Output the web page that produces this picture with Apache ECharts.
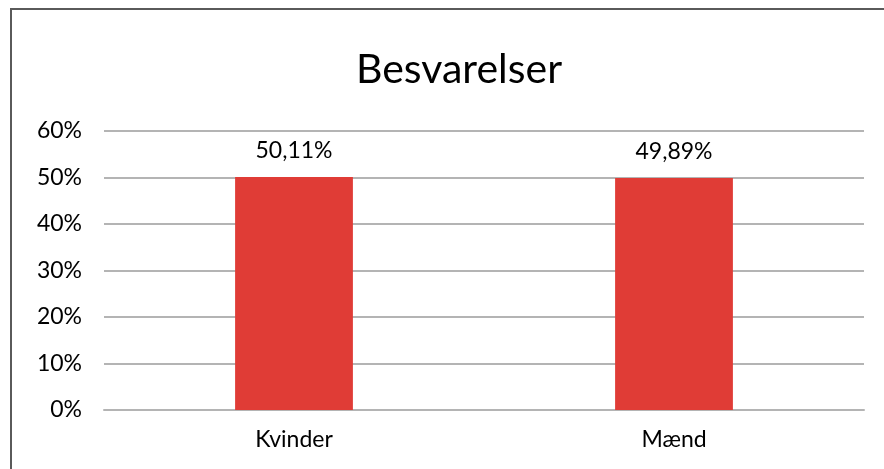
<!DOCTYPE html>
<html>
<head>
<meta charset="utf-8">
<title>Besvarelser</title>
<script src="https://cdn.jsdelivr.net/npm/echarts@6/dist/echarts.min.js"></script>
<style>
    html, body { margin: 0; padding: 0; background: #fff; }
    #chart { width: 884px; height: 469px; }
</style>
</head>
<body>
<div id="chart"></div>
<script>
// Chart data
const categories = ['Kvinder', 'Mænd'];
const shares = [50.11, 49.89];
const yTicks = { min: 0, max: 60, step: 10 };

const fontName = 'Lato';

function pct(v, digits) {
    return v.toFixed(digits).replace('.', ',') + '%';
}

const chart = echarts.init(document.getElementById('chart'));

chart.setOption({
    animation: false,
    backgroundColor: '#fff',
    textStyle: { fontFamily: fontName },
    title: {
        text: 'Besvarelser',
        left: 454,
        top: 44,
        textAlign: 'center',
        textStyle: { fontFamily: fontName, fontSize: 41, fontWeight: 'normal', color: '#000' }
    },
    graphic: [{
        type: 'rect',
        shape: { x: 11, y: 9, width: 900, height: 500 },
        style: { fill: 'none', stroke: '#5a5a5a', lineWidth: 2 },
        silent: true
    }],
    grid: { left: 104, right: 20, top: 131, bottom: 59 },
    xAxis: {
        type: 'category',
        data: categories,
        axisLine: { show: true, lineStyle: { color: '#b4b4b4', width: 2 } },
        axisTick: { show: false },
        axisLabel: { color: '#000', fontSize: 23, margin: 18 }
    },
    yAxis: {
        type: 'value',
        min: yTicks.min,
        max: yTicks.max,
        interval: yTicks.step,
        axisLine: { show: false },
        axisTick: { show: false },
        splitLine: { lineStyle: { color: '#b4b4b4', width: 2 } },
        axisLabel: {
            color: '#000',
            fontSize: 23,
            margin: 22,
            formatter: v => v + '%'
        }
    },
    series: [{
        type: 'bar',
        data: shares,
        barWidth: '31%',
        itemStyle: { color: '#e03c36' },
        label: {
            show: true,
            position: 'top',
            distance: 15,
            color: '#000',
            fontSize: 23,
            formatter: p => pct(p.value, 2)
        }
    }]
});
</script>
</body>
</html>
